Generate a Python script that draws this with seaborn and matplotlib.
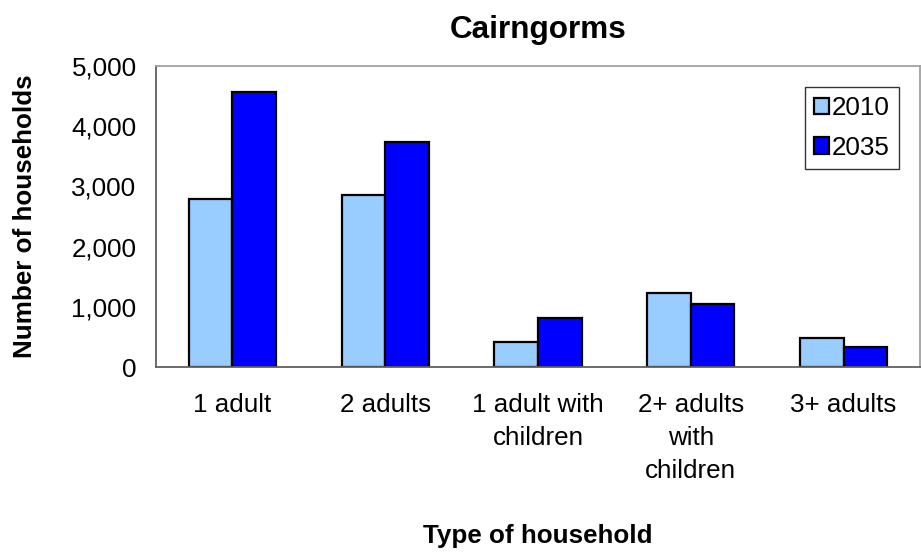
import matplotlib
matplotlib.use("Agg")
import matplotlib.pyplot as plt
import seaborn as sns
import pandas as pd

categories = ["1 adult", "2 adults", "1 adult with\nchildren", "2+ adults\nwith\nchildren", "3+ adults"]
values_2010 = [2790, 2850, 410, 1230, 475]
values_2035 = [4570, 3740, 815, 1045, 340]
series = ["2010", "2035"]
yticks = [0, 1000, 2000, 3000, 4000, 5000]
ytick_labels = ["0", "1,000", "2,000", "3,000", "4,000", "5,000"]

df = pd.DataFrame({
    "cat": categories * 2,
    "year": [series[0]] * len(categories) + [series[1]] * len(categories),
    "val": values_2010 + values_2035,
})

sns.set_style("white")
plt.rcParams["font.family"] = ["Liberation Sans", "DejaVu Sans"]
plt.rcParams["text.color"] = "black"
plt.rcParams["axes.labelcolor"] = "black"
plt.rcParams["xtick.color"] = "black"
plt.rcParams["ytick.color"] = "black"

FS = 18.7

fig = plt.figure(figsize=(9.21, 5.54), dpi=100)
ax = fig.add_axes([0.1694, 0.3375, 0.8295, 0.5434])

sns.barplot(data=df, x="cat", y="val", hue="year", order=categories, hue_order=series,
            palette=["#99ccff", "#0000ff"], width=0.57, edgecolor="black", linewidth=1.6,
            saturation=1, ax=ax)

ax.set_xlim(-0.5, len(categories) - 0.5)
ax.set_ylim(0, 5000)
ax.set_yticks(yticks)
ax.set_yticklabels(ytick_labels, fontsize=FS)
ax.set_xticks([i - 0.5 for i in range(len(categories) + 1)])
ax.set_xticklabels([])
ax.set_xticks(range(len(categories)), minor=True)
ax.set_xticklabels(categories, minor=True, fontsize=FS, linespacing=1.45)
ax.tick_params(axis="x", which="minor", length=0, pad=19)
ax.tick_params(axis="x", which="major", length=6, width=1.2, color="#606060", direction="out")
ax.tick_params(axis="y", length=6, width=1.2, color="#606060", direction="out", pad=8)
for name, s in ax.spines.items():
    s.set_color("#606060" if name in ("left", "bottom") else "#a0a0a0")
    s.set_linewidth(1.3)
ax.grid(False)

ax.set_xlabel("Type of household", fontsize=FS, fontweight="bold", labelpad=30)
ax.set_ylabel("Number of households", fontsize=FS, fontweight="bold", labelpad=25)
ax.set_title("Cairngorms", fontsize=22.7, fontweight="bold", pad=20)

leg = ax.legend(loc="upper right", bbox_to_anchor=(0.9725, 0.930), borderaxespad=0,
                fontsize=FS, frameon=True, fancybox=False, edgecolor="black",
                handlelength=0.58, handleheight=0.58, handletextpad=0.1,
                borderpad=0.35, labelspacing=0.6)
leg.get_frame().set_linewidth(1)

fig.savefig("out.png", dpi=100)
